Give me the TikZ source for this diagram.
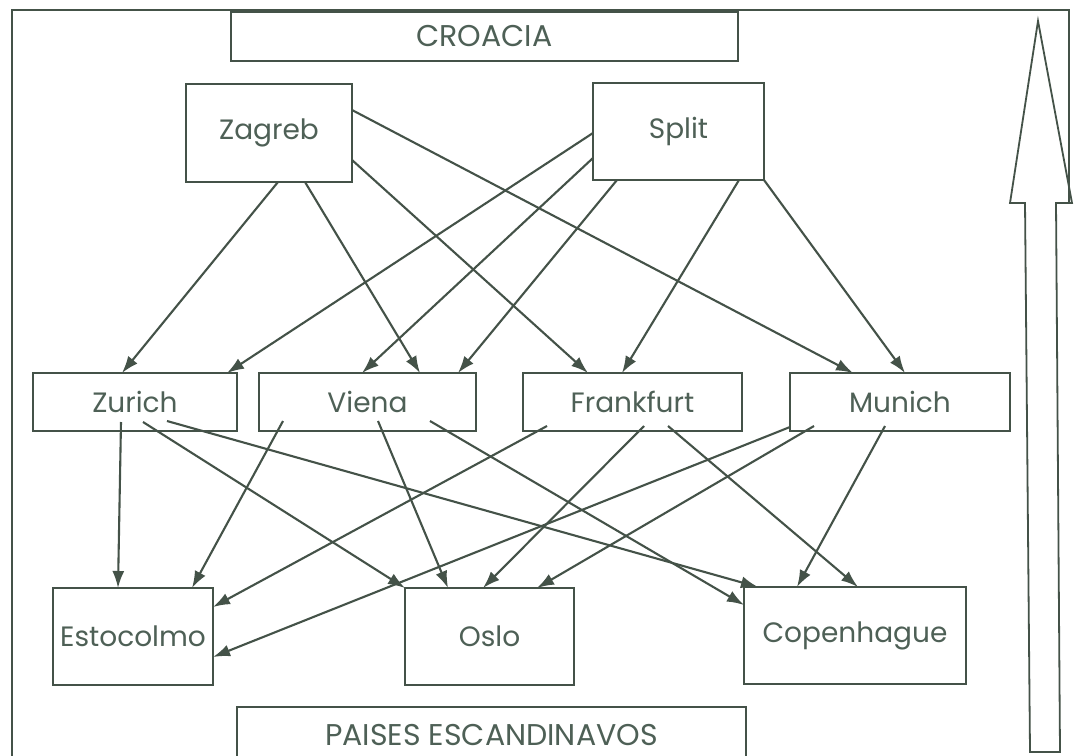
\documentclass[tikz,border=0pt]{standalone}
\usepackage{fontspec}
\setmainfont{Poppins}
\usetikzlibrary{arrows.meta,calc}
\definecolor{ink}{RGB}{68,82,72}
\definecolor{txt}{RGB}{78,96,86}
\tikzset{
  box/.style={draw=ink, line width=2.1pt, inner sep=0pt, outer sep=0pt,
    font=\fontsize{28}{34}\selectfont, text=txt},
  titlebox/.style={box, font=\fontsize{30}{36}\selectfont},
  link/.style={draw=ink, line width=2.1pt, -{Latex[length=17pt,width=12pt]}},
  frameline/.style={draw=ink, line width=1.8pt}
}
\begin{document}
\begin{tikzpicture}[x=1pt,y=-1pt]
\clip (0,0) rectangle (1075,755);
\fill[white] (0,0) rectangle (1075,755);

% outer frame
\coordinate (fbl) at (12,760);
\coordinate (ftl) at (12,10);
\coordinate (ftr) at (1069,10);
\coordinate (fbr) at (1069,203);
\draw[frameline] (fbl) -- (ftl) -- (ftr) -- (fbr);

% block arrow
\coordinate (at) at (1038,21);
\coordinate (ar1) at (1072,203);
\coordinate (ar2) at (1056,203);
\coordinate (ar3) at (1060,752);
\coordinate (al3) at (1030,752);
\coordinate (al2) at (1025,203);
\coordinate (al1) at (1010,203);
\draw[frameline, line join=miter] (at) -- (ar1) -- (ar2) -- (ar3) -- (al3) -- (al2) -- (al1) -- cycle;

% title boxes
\node[titlebox, minimum width=507pt, minimum height=49pt] (croacia) at (484.5,36.5) {\raisebox{-2pt}{CROACIA}};
\node[titlebox, minimum width=509pt, minimum height=56pt] (paises) at (491.5,735) {\raisebox{-3pt}{PAISES ESCANDINAVOS}};

% top row
\node[box, minimum width=166pt, minimum height=98pt] (zagreb) at (269,133) {Zagreb};
\node[box, minimum width=171pt, minimum height=97pt] (split) at (678.5,131.5) {Split};

% middle row
\node[box, minimum width=204pt, minimum height=58pt] (zurich) at (135,402) {Zurich};
\node[box, minimum width=217pt, minimum height=58pt] (viena) at (367.5,402) {Viena};
\node[box, minimum width=219pt, minimum height=58pt] (frankfurt) at (632.5,402) {Frankfurt};
\node[box, minimum width=220pt, minimum height=58pt] (munich) at (900,402) {Munich};

% bottom row
\node[box, minimum width=160pt, minimum height=97pt] (estocolmo) at (133,636.5) {Estocolmo};
\node[box, minimum width=169pt, minimum height=97pt] (oslo) at (489.5,636.5) {Oslo};
\node[box, minimum width=222pt, minimum height=97pt] (copen) at (855,635.5) {Copenhague};

% Zagreb out
\draw[link] ($(zagreb.north west)+(92,98)$) -- ($(zurich.north west)+(89,0)$);
\draw[link] ($(zagreb.north west)+(119,98)$) -- ($(viena.north west)+(161,0)$);
\draw[link] ($(zagreb.north west)+(166,26)$) -- ($(munich.north west)+(63,0)$);
\draw[link] ($(zagreb.north west)+(166,76)$) -- ($(frankfurt.north west)+(65,0)$);
% Split out
\draw[link] ($(split.north west)+(0,50)$) -- ($(zurich.north west)+(194,0)$);
\draw[link] ($(split.north west)+(0,75)$) -- ($(viena.north west)+(103,0)$);
\draw[link] ($(split.north west)+(24,97)$) -- ($(viena.north west)+(199,0)$);
\draw[link] ($(split.north west)+(146,97)$) -- ($(frankfurt.north west)+(99,0)$);
\draw[link] ($(split.north west)+(171,97)$) -- ($(munich.north west)+(115,0)$);

% Zurich out
\draw[link] ($(zurich.north west)+(88,49)$) -- ($(estocolmo.north west)+(65,0)$);
\draw[link] ($(zurich.north west)+(110,49)$) -- ($(oslo.north west)+(0,0)$);
\draw[link] ($(zurich.north west)+(134,48)$) -- ($(copen.north west)+(14,0)$);
% Viena out
\draw[link] ($(viena.north west)+(24,48)$) -- ($(estocolmo.north west)+(139,0)$);
\draw[link] ($(viena.north west)+(119,48)$) -- ($(oslo.north west)+(43,0)$);
\draw[link] ($(viena.north west)+(171,48)$) -- ($(copen.north west)+(0,18)$);
% Frankfurt out
\draw[link] ($(frankfurt.north west)+(24,53)$) -- ($(estocolmo.north west)+(160,19)$);
\draw[link] ($(frankfurt.north west)+(121,53)$) -- ($(oslo.north west)+(78,0)$);
\draw[link] ($(frankfurt.north west)+(145,53)$) -- ($(copen.north west)+(114,0)$);
% Munich out
\draw[link] ($(munich.north west)+(0,54)$) -- ($(estocolmo.north west)+(160,69)$);
\draw[link] ($(munich.north west)+(24,53)$) -- ($(oslo.north west)+(132,0)$);
\draw[link] ($(munich.north west)+(95,53)$) -- ($(copen.north west)+(53,0)$);
\end{tikzpicture}
\end{document}
